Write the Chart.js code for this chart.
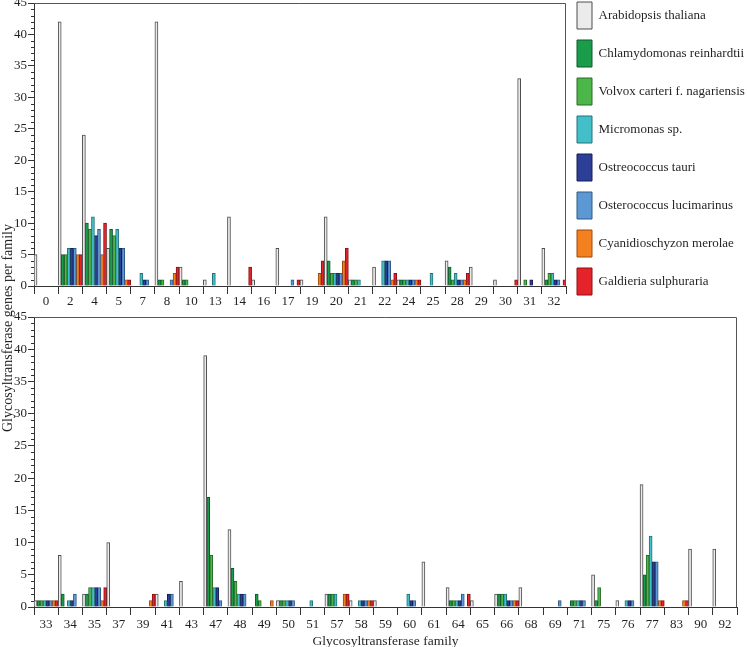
<!DOCTYPE html>
<html>
<head>
<meta charset="utf-8">
<script src="https://cdn.jsdelivr.net/npm/chart.js@4.4.0/dist/chart.umd.min.js"></script>
<style>
  html, body { margin: 0; padding: 0; background: #fff; }
  body { position: relative; width: 747px; height: 647px; overflow: hidden; }
  canvas { position: absolute; left: 0; }
  #topChart { top: -9px; }
  #bottomChart { top: 300px; }
  #yTitle {
    position: absolute; left: -142px; top: 318px; width: 300px; height: 20px; line-height: 20px;
    text-align: center; transform: rotate(-90deg);
    font-family: "Liberation Serif", serif; font-size: 14px; color: #231f20;
  }
</style>
</head>
<body>
<canvas id="topChart" width="747" height="320"></canvas>
<canvas id="bottomChart" width="747" height="347"></canvas>
<div id="yTitle">Glycosyltransferase genes per family</div>
<script>
// Glycosyltransferase families; the first 22 go in the upper panel, the rest below
const families = ['0', '2', '4', '5', '7', '8', '10', '13', '14', '16', '17', '19', '20', '21', '22', '24', '25', '28', '29', '30', '31', '32',
    '33', '34', '35', '37', '39', '41', '43', '47', '48', '49', '50', '51', '57', '58', '59', '60', '61', '64', '65', '66', '68', '69', '71', '75', '76', '77', '83', '90', '92'];
const topCount = 22;

// genes per family, one array per species (same order as families)
const arabidopsis = [5, 42, 24, 6, 0, 42, 3, 1, 11, 1, 6, 1, 11, 1, 3, 1, 0, 4, 3, 1, 33, 6,
    1, 8, 2, 10, 0, 2, 4, 39, 12, 0, 1, 0, 2, 1, 1, 0, 7, 3, 1, 2, 3, 0, 0, 5, 1, 19, 0, 9, 9];
const chlamydomonas = [0, 5, 10, 9, 0, 1, 1, 0, 0, 0, 0, 0, 4, 1, 0, 1, 0, 3, 0, 0, 0, 1,
    1, 2, 2, 0, 0, 0, 0, 17, 6, 2, 1, 0, 2, 0, 0, 0, 0, 1, 0, 2, 0, 0, 1, 1, 0, 5, 0, 0, 0];
const volvox = [0, 5, 9, 8, 0, 1, 1, 0, 0, 0, 0, 0, 2, 1, 0, 1, 0, 1, 0, 0, 1, 2,
    1, 0, 3, 0, 0, 0, 0, 8, 4, 1, 1, 0, 2, 0, 0, 0, 0, 1, 0, 2, 0, 0, 1, 3, 0, 8, 0, 0, 0];
const micromonas = [0, 6, 11, 9, 2, 0, 0, 2, 0, 0, 0, 0, 2, 1, 4, 1, 2, 2, 0, 0, 0, 2,
    1, 1, 3, 0, 0, 1, 0, 3, 2, 0, 1, 1, 2, 1, 0, 2, 0, 1, 0, 2, 0, 0, 1, 0, 1, 11, 0, 0, 0];
const ostreococcusTauri = [0, 6, 8, 6, 1, 0, 0, 0, 0, 0, 0, 0, 2, 0, 4, 1, 0, 1, 0, 0, 1, 1,
    1, 1, 3, 0, 0, 2, 0, 3, 2, 0, 1, 0, 0, 1, 0, 1, 0, 1, 0, 1, 0, 0, 1, 0, 1, 7, 0, 0, 0];
const ostreococcusLucimarinus = [0, 6, 9, 6, 1, 1, 0, 0, 0, 0, 1, 0, 2, 0, 4, 1, 0, 1, 0, 0, 0, 1,
    1, 2, 3, 0, 0, 2, 0, 1, 2, 0, 1, 0, 0, 1, 0, 1, 0, 2, 0, 1, 0, 1, 1, 0, 1, 7, 0, 0, 0];
const cyanidioschyzon = [0, 5, 5, 1, 0, 2, 0, 0, 0, 0, 0, 2, 4, 0, 1, 1, 0, 1, 0, 0, 0, 0,
    1, 0, 1, 0, 1, 0, 0, 0, 0, 1, 0, 0, 2, 1, 0, 0, 0, 0, 0, 1, 0, 0, 0, 0, 0, 1, 1, 0, 0];
const galdieria = [0, 5, 10, 1, 0, 3, 0, 0, 3, 0, 1, 4, 6, 0, 2, 1, 0, 2, 0, 1, 0, 1,
    1, 0, 3, 0, 2, 0, 0, 0, 0, 0, 0, 0, 2, 1, 0, 0, 0, 2, 0, 1, 0, 0, 0, 0, 0, 1, 1, 0, 0];

const species = [
    { name: 'Arabidopsis thaliana', values: arabidopsis, fill: '#ebebeb', edge: '#4d4d4d' },
    { name: 'Chlamydomonas reinhardtii', values: chlamydomonas, fill: '#1b9c4b', edge: '#0e5a2b' },
    { name: 'Volvox carteri f. nagariensis', values: volvox, fill: '#4cb748', edge: '#2a6a27' },
    { name: 'Micromonas sp.', values: micromonas, fill: '#42bfc9', edge: '#23737a' },
    { name: 'Ostreococcus tauri', values: ostreococcusTauri, fill: '#2c3e95', edge: '#151f55' },
    { name: 'Osterococcus lucimarinus', values: ostreococcusLucimarinus, fill: '#5c98d4', edge: '#2f5a88' },
    { name: 'Cyanidioschyzon merolae', values: cyanidioschyzon, fill: '#f4811f', edge: '#9a4a0b' },
    { name: 'Galdieria sulphuraria', values: galdieria, fill: '#e5232a', edge: '#8a1014' }
];

const serif = '"Liberation Serif", "Times New Roman", serif';
const inkColor = '#231f20';
const axisColor = '#333';

function makeDatasets(from, to) {
    return species.map(sp => ({
        label: sp.name,
        data: sp.values.slice(from, to),
        backgroundColor: sp.fill,
        borderColor: sp.edge,
        borderWidth: 1,
        categoryPercentage: 1.0,
        barPercentage: 1.0
    }));
}

// short minor ticks on the y axis plus the top/right frame lines
const axisDecor = {
    id: 'axisDecor',
    afterDraw(chart) {
        const ctx = chart.ctx;
        const area = chart.chartArea;
        const y = chart.scales.y;
        ctx.save();
        ctx.strokeStyle = axisColor;
        ctx.lineWidth = 1;
        for (let v = y.min; v <= y.max; v++) {
            if (v % 5 === 0) continue;
            const py = Math.round(y.getPixelForValue(v)) + 0.5;
            ctx.beginPath();
            ctx.moveTo(area.left - 3, py);
            ctx.lineTo(area.left, py);
            ctx.stroke();
        }
        const top = Math.round(area.top) + 0.5;
        const right = Math.round(area.right) - 0.5;
        ctx.strokeStyle = '#555';
        ctx.beginPath();
        ctx.moveTo(area.left, top);
        ctx.lineTo(right, top);
        ctx.lineTo(right, area.bottom);
        ctx.stroke();
        ctx.restore();
    }
};

function buildOptions(cfg) {
    return {
        responsive: false,
        animation: false,
        layout: { padding: { left: 0, right: cfg.padRight, top: 0, bottom: 0 } },
        plugins: {
            legend: cfg.legend,
            tooltip: { enabled: false }
        },
        scales: {
            x: {
                type: 'category',
                offset: true,
                grid: { offset: true, drawOnChartArea: false, tickLength: 8, color: axisColor },
                border: { color: axisColor },
                ticks: { autoSkip: false, maxRotation: 0, padding: cfg.xPad, color: inkColor, font: { family: serif, size: 13 } },
                title: cfg.xTitle,
                afterFit(scale) {
                    scale.height = cfg.xHeight;
                    scale.paddingLeft = 0;
                    scale.paddingRight = 0;
                }
            },
            y: {
                min: 0,
                max: 45,
                ticks: { stepSize: 5, padding: 1, color: inkColor, font: { family: serif, size: 13 } },
                grid: { drawOnChartArea: false, tickLength: 6, color: axisColor },
                border: { color: axisColor },
                afterFit(scale) {
                    scale.width = 34;
                    scale.paddingTop = cfg.yTop;
                }
            }
        }
    };
}

new Chart(document.getElementById('topChart'), {
    type: 'bar',
    data: { labels: families.slice(0, topCount), datasets: makeDatasets(0, topCount) },
    options: buildOptions({
        padRight: 0,
        xHeight: 25,
        xPad: 0,
        yTop: 12,
        xTitle: { display: false },
        legend: {
            display: true,
            position: 'right',
            align: 'start',
            maxWidth: 181,
            labels: {
                boxWidth: 15,
                boxHeight: 27,
                padding: 11,
                color: inkColor,
                font: { family: serif, size: 13 }
            }
        }
    }),
    plugins: [axisDecor]
});

new Chart(document.getElementById('bottomChart'), {
    type: 'bar',
    data: { labels: families.slice(topCount), datasets: makeDatasets(topCount, families.length) },
    options: buildOptions({
        padRight: 10,
        xHeight: 40,
        xPad: 2,
        yTop: 17,
        xTitle: {
            display: true,
            text: 'Glycosyltransferase family',
            color: inkColor,
            padding: { top: 0, bottom: -3 },
            font: { family: serif, size: 13.5 }
        },
        legend: { display: false }
    }),
    plugins: [axisDecor]
});
</script>
</body>
</html>
